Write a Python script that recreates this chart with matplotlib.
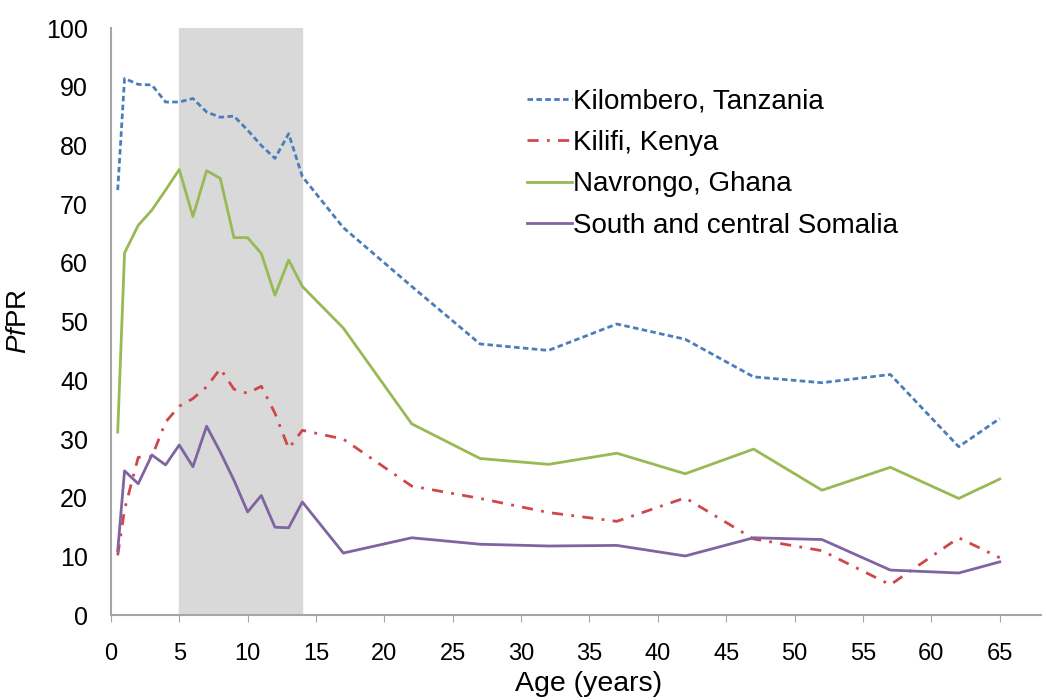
import matplotlib
matplotlib.use('Agg')
import matplotlib.pyplot as plt

plt.rcParams['font.family'] = ['Liberation Sans', 'DejaVu Sans']
plt.rcParams['mathtext.fontset'] = 'custom'
plt.rcParams['mathtext.rm'] = 'Liberation Sans'
plt.rcParams['mathtext.it'] = 'Liberation Sans:italic'

# Age groups (years)
age = [0.5, 1, 2, 3, 4, 5, 6, 7, 8, 9, 10, 11, 12, 13, 14,
       17, 22, 27, 32, 37, 42, 47, 52, 57, 62, 65]

kilombero = [72.4, 91.4, 90.4, 90.3, 87.4, 87.4, 88.0, 85.7, 84.8, 85.0, 82.6, 80.0, 77.8, 82.0, 74.7,
             66.0, 56.0, 46.2, 45.1, 49.6, 47.0, 40.6, 39.6, 41.0, 28.7, 33.5]
kilifi = [10.2, 18.0, 26.9, 27.0, 32.9, 35.6, 36.9, 38.9, 42.0, 38.5, 37.8, 39.0, 34.4, 28.4, 31.5,
          30.0, 22.0, 19.9, 17.5, 16.0, 20.0, 13.0, 11.0, 5.2, 13.2, 9.8]
navrongo = [31.2, 61.7, 66.4, 69.0, 72.4, 75.9, 67.9, 75.7, 74.4, 64.3, 64.3, 61.6, 54.5, 60.5, 56.0,
            48.9, 32.6, 26.7, 25.7, 27.6, 24.1, 28.3, 21.3, 25.2, 19.9, 23.2]
somalia = [11.0, 24.6, 22.4, 27.3, 25.6, 29.0, 25.3, 32.2, 27.8, 23.0, 17.6, 20.4, 15.0, 14.9, 19.3,
           10.6, 13.2, 12.1, 11.8, 11.9, 10.1, 13.2, 12.9, 7.7, 7.2, 9.1]

fig = plt.figure(figsize=(10.46, 7), dpi=100)
ax = fig.add_axes([0.106, 0.121, 0.889, 0.839])

# shaded school-age band
ax.axvspan(5, 14, color='#d9d9d9', zorder=0)

ax.plot(age, kilombero, color='#4a7ebb', lw=2, ls=(0, (2, 1.2)), label='Kilombero, Tanzania')
ax.plot(age, kilifi, color='#d0474b', lw=2, ls=(0, (4, 3, 1, 3)), label='Kilifi, Kenya')
ax.plot(age, navrongo, color='#98b954', lw=2, label='Navrongo, Ghana')
ax.plot(age, somalia, color='#8064a2', lw=2, label='South and central Somalia')

ax.set_xlim(0, 68)
ax.set_ylim(0, 100)
ax.set_xticks(range(0, 66, 5))
ax.set_yticks(range(0, 101, 10))
ax.tick_params(axis='x', labelsize=17, length=5, color='#a6a6a6', pad=15)
ax.tick_params(axis='y', labelsize=18, length=0, pad=16.5)

for s in ['top', 'right']:
    ax.spines[s].set_visible(False)
for s in ['left', 'bottom']:
    ax.spines[s].set_color('#a6a6a6')
    ax.spines[s].set_linewidth(1.5)

ax.set_xlabel('Age (years)', fontsize=20.5)
ax.xaxis.set_label_coords(0.514, -0.095)
ax.set_ylabel(r'$\mathit{Pf}$PR', fontsize=20, labelpad=10)

ax.legend(loc='upper left', bbox_to_anchor=(0.421, 0.939), frameon=False, fontsize=20,
          handlelength=1.6, handletextpad=0.05, labelspacing=0.55)

fig.savefig('out.png', dpi=100)
